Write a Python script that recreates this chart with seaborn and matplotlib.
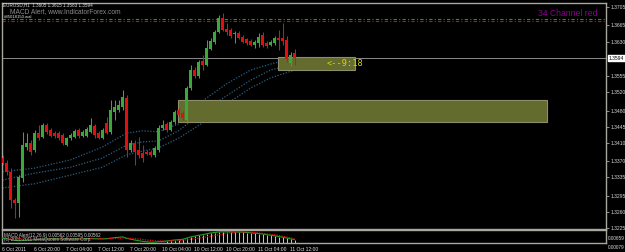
import numpy as np
import pandas as pd
import matplotlib
matplotlib.use("Agg")
import matplotlib.pyplot as plt
import seaborn as sns

# ---------------- data ----------------
opens = [1.3377, 1.3366, 1.3347, 1.3286, 1.3279, 1.3334, 1.3401, 1.3410, 1.3394, 1.3431,
         1.3423, 1.3449, 1.3438, 1.3431, 1.3431, 1.3427, 1.3405, 1.3420, 1.3423, 1.3438,
         1.3425, 1.3425, 1.3434, 1.3447, 1.3431, 1.3420, 1.3453, 1.3434, 1.3477, 1.3481,
         1.3488, 1.3507, 1.3394, 1.3410, 1.3394, 1.3388, 1.3390, 1.3390, 1.3384, 1.3394,
         1.3442, 1.3451, 1.3438, 1.3455, 1.3481, 1.3475, 1.3460, 1.3529, 1.3568, 1.3555,
         1.3588, 1.3579, 1.3614, 1.3629, 1.3651, 1.3681, 1.3657, 1.3655, 1.3646, 1.3649,
         1.3640, 1.3636, 1.3631, 1.3622, 1.3627, 1.3644, 1.3627, 1.3622, 1.3627, 1.3638,
         1.3638, 1.3633, 1.3583, 1.3605]
highs = [1.3384, 1.3373, 1.3355, 1.3290, 1.3340, 1.3433, 1.3431, 1.3416, 1.3438, 1.3449,
         1.3453, 1.3453, 1.3442, 1.3436, 1.3436, 1.3431, 1.3423, 1.3431, 1.3440, 1.3442,
         1.3438, 1.3444, 1.3464, 1.3451, 1.3436, 1.3442, 1.3466, 1.3503, 1.3503, 1.3503,
         1.3524, 1.3514, 1.3416, 1.3416, 1.3423, 1.3405, 1.3394, 1.3394, 1.3403, 1.3449,
         1.3460, 1.3455, 1.3460, 1.3481, 1.3486, 1.3479, 1.3533, 1.3579, 1.3575, 1.3590,
         1.3601, 1.3633, 1.3638, 1.3655, 1.3688, 1.3692, 1.3670, 1.3659, 1.3653, 1.3653,
         1.3644, 1.3638, 1.3636, 1.3633, 1.3648, 1.3651, 1.3631, 1.3633, 1.3642, 1.3655,
         1.3670, 1.3642, 1.3607, 1.3614]
lows = [1.3362, 1.3340, 1.3268, 1.3247, 1.3249, 1.3325, 1.3394, 1.3384, 1.3390, 1.3416,
        1.3420, 1.3429, 1.3422, 1.3420, 1.3416, 1.3405, 1.3403, 1.3416, 1.3420, 1.3420,
        1.3422, 1.3423, 1.3431, 1.3420, 1.3418, 1.3418, 1.3429, 1.3429, 1.3460, 1.3477,
        1.3481, 1.3379, 1.3390, 1.3362, 1.3377, 1.3368, 1.3384, 1.3379, 1.3379, 1.3390,
        1.3438, 1.3433, 1.3436, 1.3451, 1.3466, 1.3460, 1.3455, 1.3525, 1.3551, 1.3551,
        1.3568, 1.3577, 1.3612, 1.3625, 1.3649, 1.3653, 1.3644, 1.3638, 1.3627, 1.3636,
        1.3627, 1.3622, 1.3620, 1.3616, 1.3618, 1.3618, 1.3616, 1.3620, 1.3622, 1.3612,
        1.3622, 1.3586, 1.3577, 1.3579]
closes = [1.3366, 1.3347, 1.3286, 1.3279, 1.3336, 1.3405, 1.3410, 1.3390, 1.3431, 1.3420,
          1.3449, 1.3434, 1.3425, 1.3425, 1.3420, 1.3410, 1.3420, 1.3427, 1.3436, 1.3425,
          1.3434, 1.3440, 1.3449, 1.3427, 1.3420, 1.3438, 1.3431, 1.3481, 1.3488, 1.3492,
          1.3510, 1.3394, 1.3410, 1.3390, 1.3384, 1.3377, 1.3386, 1.3384, 1.3399, 1.3442,
          1.3449, 1.3438, 1.3455, 1.3477, 1.3470, 1.3464, 1.3529, 1.3568, 1.3555, 1.3586,
          1.3579, 1.3616, 1.3631, 1.3651, 1.3681, 1.3655, 1.3651, 1.3642, 1.3649, 1.3638,
          1.3629, 1.3627, 1.3622, 1.3629, 1.3640, 1.3622, 1.3620, 1.3629, 1.3638, 1.3633,
          1.3631, 1.3592, 1.3601, 1.3594]

# 34-period channel (dotted lines), read at a few bars
chan_idx = [0, 8, 17, 25, 31, 35, 39, 44, 50, 56, 62, 67, 73]
chan_top = [1.3347, 1.3355, 1.3373, 1.3401, 1.3431, 1.3436, 1.3434, 1.3451, 1.3501, 1.3538, 1.3568, 1.3581, 1.3594]
chan_mid = [1.3329, 1.3344, 1.3357, 1.3377, 1.3405, 1.3412, 1.3414, 1.3436, 1.3477, 1.3512, 1.3546, 1.3568, 1.3581]
chan_bot = [1.3312, 1.3321, 1.3340, 1.3357, 1.3384, 1.3392, 1.3399, 1.3420, 1.3453, 1.3494, 1.3529, 1.3551, 1.3568]

# MACD sub-window
macd_main = [0.0024, 0.0022, 0.0018, 0.0013, 0.0011, 0.0012, 0.0014, 0.0015, 0.0017, 0.0018,
             0.0020, 0.0021, 0.0022, 0.0022, 0.0022, 0.0021, 0.0021, 0.0021, 0.0022, 0.0022,
             0.0022, 0.0023, 0.0024, 0.0023, 0.0022, 0.0022, 0.0023, 0.0026, 0.0029, 0.0031,
             0.0034, 0.0025, 0.0020, 0.0015, 0.0011, 0.0007, 0.0004, 0.0002, 0.0002, 0.0005,
             0.0006, 0.0009, 0.0012, 0.0015, 0.0017, 0.0019, 0.0026, 0.0033, 0.0038, 0.0043,
             0.0047, 0.0052, 0.0057, 0.0060, 0.0063, 0.0064, 0.0064, 0.0064, 0.0063, 0.0063,
             0.0062, 0.0060, 0.0058, 0.0056, 0.0054, 0.0051, 0.0047, 0.0044, 0.0040, 0.0036,
             0.0032, 0.0027, 0.0022, 0.0017]
macd_signal = [0.0030, 0.0029, 0.0027, 0.0025, 0.0023, 0.0021, 0.0020, 0.0019, 0.0019, 0.0019,
               0.0019, 0.0019, 0.0020, 0.0020, 0.0020, 0.0021, 0.0021, 0.0021, 0.0021, 0.0021,
               0.0021, 0.0022, 0.0022, 0.0022, 0.0022, 0.0022, 0.0022, 0.0023, 0.0024, 0.0025,
               0.0027, 0.0026, 0.0025, 0.0023, 0.0021, 0.0018, 0.0015, 0.0012, 0.0010, 0.0009,
               0.0009, 0.0009, 0.0010, 0.0011, 0.0012, 0.0014, 0.0016, 0.0019, 0.0023, 0.0026,
               0.0030, 0.0034, 0.0038, 0.0042, 0.0046, 0.0050, 0.0054, 0.0057, 0.0060, 0.0062,
               0.0063, 0.0063, 0.0062, 0.0060, 0.0058, 0.0055, 0.0052, 0.0049, 0.0046, 0.0042,
               0.0038, 0.0033, 0.0028, 0.0023]
macd_hist = [0.0] * 41 + [0.0009, 0.0012, 0.0015, 0.0017, 0.0019, 0.0026, 0.0033, 0.0038, 0.0043,
             0.0047, 0.0052, 0.0057, 0.0060, 0.0063, 0.0064, 0.0064, 0.0064, 0.0063, 0.0063,
             0.0062, 0.0060, 0.0058, 0.0056, 0.0054, 0.0051, 0.0047, 0.0044, 0.0040, 0.0036,
             0.0032, 0.0027, 0.0022, 0.0017]

time_ticks = [0, 8, 16, 24, 32, 40, 48, 56, 64, 72]
time_labels = ["6 Oct 2011", "6 Oct 20:00", "7 Oct 04:00", "7 Oct 12:00", "7 Oct 20:00",
               "10 Oct 04:00", "10 Oct 12:00", "10 Oct 20:00", "11 Oct 04:00", "11 Oct 12:00"]
price_ticks = [1.3705, 1.3665, 1.3630, 1.3555, 1.3520, 1.3480, 1.3445, 1.3410,
               1.3370, 1.3335, 1.3295, 1.3260, 1.3225]
price_tick_labels = ["1.3705", "1.3665", "1.3630", "1.3555", "1.3520", "1.3480", "1.3445", "1.3410",
                     "1.3370", "1.3335", "1.3295", "1.3260", "1.3225"]
current_price = 1.3594
level_green = 1.3680
level_red = 1.3675
zone_x0 = [68.9, 43.9]
zone_x1 = [88.1, 136.1]
zone_lo = [1.3568, 1.3455]
zone_hi = [1.3596, 1.3503]
timer_text = "<--9:18"
timer_x = 81.1
timer_y = 1.3583

# ---------------- style ----------------
sns.set_theme(style="dark", rc={"axes.facecolor": "black", "figure.facecolor": "black",
                                "axes.grid": False})
plt.rcParams["font.family"] = ["Liberation Sans", "DejaVu Sans"]

W, H = 625, 252
fig = plt.figure(figsize=(W / 100, H / 100), dpi=100)
fig.patch.set_facecolor("black")
ax = fig.add_axes([2 / W, 1 - 229 / H, 604 / W, 226 / H])
axm = fig.add_axes([2 / W, 1 - 243 / H, 604 / W, 13 / H])

frame = "#a8a8a0"
for a in (ax, axm):
    a.set_facecolor("black")
    for s in a.spines.values():
        s.set_color(frame)
        s.set_linewidth(1.0)

XL = (-0.125, 150.875)
ax.set_xlim(*XL)
ax.set_ylim(1.32228, 1.37137)

# zones
for x0, x1, lo, hi in zip(zone_x0, zone_x1, zone_lo, zone_hi):
    ax.add_patch(plt.Rectangle((x0, lo), x1 - x0, hi - lo, facecolor="#646b2e",
                               edgecolor="#8e8e6a", linewidth=0.8, zorder=3))

# channel lines
chan = pd.DataFrame({"idx": chan_idx, "top": chan_top, "mid": chan_mid, "bot": chan_bot})
for col in ["top", "mid", "bot"]:
    sns.lineplot(data=chan, x="idx", y=col, ax=ax, color="#2c5f82", linewidth=0.9,
                 linestyle=(0, (1, 1.3)), zorder=2)

# horizontal levels
ax.axhline(level_green, color="#1f9a1f", linewidth=0.8, linestyle=(0, (3, 2, 1, 2)), zorder=2)
ax.axhline(level_red, color="#c81010", linewidth=0.8, linestyle=(0, (3, 2, 1, 2)), zorder=2)
ax.axhline(current_price, color="#8a8a8a", linewidth=0.7, zorder=2)

# candles
idx = np.arange(len(opens))
o = np.array(opens); c = np.array(closes); hi_ = np.array(highs); lo_ = np.array(lows)
up = c >= o
col = np.where(up, "#3aa83a", "#e01010")
ax.vlines(idx, lo_, hi_, colors=col, linewidth=0.75, zorder=4)
body_bottom = np.minimum(o, c)
body_h = np.maximum(np.abs(c - o), 0.00012)
ax.bar(idx, body_h, bottom=body_bottom, width=0.72, color=col, linewidth=0, zorder=5)

ax.text(timer_x, timer_y, timer_text, color="#d8d400", fontsize=6.2, va="center", ha="left",
        family=["DejaVu Sans Mono", "DejaVu Sans"], zorder=6)

# y axis on right
ax.yaxis.tick_right()
ax.set_yticks(price_ticks)
ax.set_yticklabels(price_tick_labels)
ax.tick_params(axis="y", colors=frame, labelcolor="#d8d8d8", labelsize=3.6, length=2,
               width=0.6, pad=1.5, direction="out", right=True, left=False)
ax.set_xticks([])
ax.set_xlabel(""); ax.set_ylabel("")
ax.text(1.004, current_price, "1.3594", transform=ax.get_yaxis_transform(), fontsize=3.6,
        color="black", va="center", ha="left",
        bbox=dict(boxstyle="square,pad=0.15", facecolor="white", edgecolor="white"), clip_on=False)

# ---------------- MACD panel ----------------
axm.set_xlim(*XL)
axm.set_ylim(-0.0003, 0.0075)
axm.vlines(idx, 0, macd_hist, colors="#c8c8c8", linewidth=0.7, zorder=2)
md = pd.DataFrame({"idx": idx, "main": macd_main, "signal": macd_signal})
sns.lineplot(data=md, x="idx", y="main", ax=axm, color="#22a022", linewidth=0.8, zorder=3)
sns.lineplot(data=md, x="idx", y="signal", ax=axm, color="#e01010", linewidth=0.9,
             linestyle=(0, (1, 1)), zorder=4)
axm.set_xlabel(""); axm.set_ylabel("")
axm.set_yticks([])
axm.set_xticks(time_ticks)
axm.set_xticklabels(time_labels, ha="left")
axm.tick_params(axis="x", colors=frame, labelcolor="#e0e0e0", labelsize=3.6, length=2,
                width=0.6, pad=1.2, direction="out")

def ftxt(px, py, s, **kw):
    fig.text(px / W, 1 - py / H, s, **kw)

ftxt(608, 239, "0.00659", fontsize=3.4, color="#d8d8d8", va="center", ha="left")
ftxt(608, 247.5, "0.00079", fontsize=3.4, color="#d8d8d8", va="center", ha="left")

ftxt(4, 235, "MACD Alert(12,26,9) 0.00562 0.00595 0.00562", fontsize=3.3, color="#d0d0d0",
     va="center", ha="left")
ftxt(4, 239.5, "(c) 2001-2011 MetaQuotes Software Corp.", fontsize=3.3, color="#b0b0b0",
     va="center", ha="left")

# header texts
ftxt(3, 5, "EURUSD,H1  1.3605 1.3615 1.3583 1.3594", fontsize=3.3, color="#e0e0e0",
     va="center", ha="left")
ftxt(10, 11.5, "MACD Alert, www.IndicatorForex.com", fontsize=4.8, color="#8c8c8c",
     va="center", ha="left")
ftxt(4, 17, "#85018150.wal", fontsize=3.1, color="#e0e0e0", va="center", ha="left")
ftxt(597, 13, "34 Channel red", fontsize=6.2, color="#8a008a", va="center", ha="right")

fig.savefig("out.png", dpi=100, facecolor="black")
